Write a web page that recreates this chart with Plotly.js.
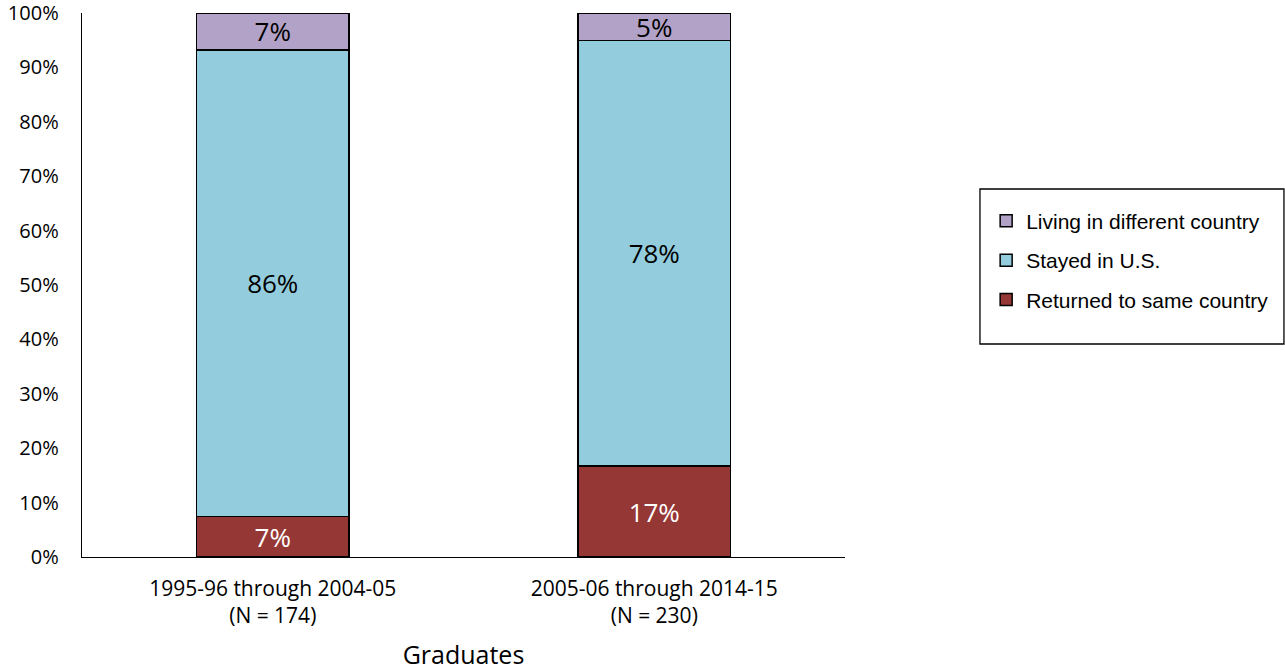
<!DOCTYPE html>
<html><head><meta charset="utf-8">
<script src="https://cdn.plot.ly/plotly-3.0.1.min.js"></script>
<style>html,body{margin:0;padding:0;background:#fff}#c{width:1285px;height:671px}</style>
</head><body><div id="c"></div>
<script>
var categories = ["1995-96 through 2004-05<br>(N = 174)", "2005-06 through 2014-15<br>(N = 230)"];
var returnedVals = [7.4, 16.7];
var stayedVals = [85.8, 78.2];
var differentVals = [6.8, 5.1];
var seriesNames = ["Returned to same country", "Stayed in U.S.", "Living in different country"];
var seriesColors = ["#953735", "#93CDDD", "#B3A2C7"];
var textColors = ["#ffffff", "#000000", "#000000"];
var xTitle = "Graduates";

var allVals = [returnedVals, stayedVals, differentVals];
var traces = allVals.map(function(v, i){
  return {
    type: 'bar', x: categories, y: v, name: seriesNames[i], legendgroup: 'g' + i,
    legendrank: 1000 - i,
    marker: {color: seriesColors[i], line: {color: '#000', width: 1.5}},
    text: v.map(function(d){return Math.round(d) + '%';}),
    textposition: 'inside', insidetextanchor: 'middle', constraintext: 'none',
    textfont: {family: 'Open Sans, Lato, sans-serif', size: 26, color: textColors[i]},
    hoverinfo: 'none'
  };
});
var layout = {
  width: 1285, height: 671,
  margin: {l: 82, r: 440, t: 13, b: 114, autoexpand: false},
  barmode: 'stack', bargap: 0.6,
  paper_bgcolor: '#fff', plot_bgcolor: '#fff',
  font: {family: 'Open Sans, Lato, sans-serif', size: 20, color: '#000'},
  xaxis: {
    showline: true, linecolor: '#000', linewidth: 1.3, ticks: '', showgrid: false,
    tickfont: {size: 21}, ticklabelstandoff: 12, automargin: false,
    title: {text: xTitle, font: {size: 25}, standoff: 27}
  },
  yaxis: {
    range: [0, 100], dtick: 10, ticksuffix: '%', showline: true, linecolor: '#000', linewidth: 1.3,
    showgrid: false, zeroline: false, ticks: '', ticklabelstandoff: 18, tickfont: {size: 20},
    ticklabeloverflow: 'allow', automargin: false
  },
  showlegend: true,
  legend: {
    x: 1.185, y: 0.655, xanchor: 'left', yanchor: 'top',
    borderwidth: 0, bgcolor: 'rgba(0,0,0,0)',
    font: {family: 'Liberation Sans, Arial, sans-serif', size: 21},
    traceorder: 'grouped', tracegroupgap: 9
  },
  shapes: [{
    type: 'rect', xref: 'paper', yref: 'paper',
    x0: 1.1769, x1: 1.5753, y0: 0.3915, y1: 0.6765,
    line: {color: '#000', width: 1.3}, fillcolor: 'rgba(0,0,0,0)', layer: 'below'
  }]
};
Plotly.newPlot('c', traces, layout, {displayModeBar: false, staticPlot: true});
</script></body></html>
